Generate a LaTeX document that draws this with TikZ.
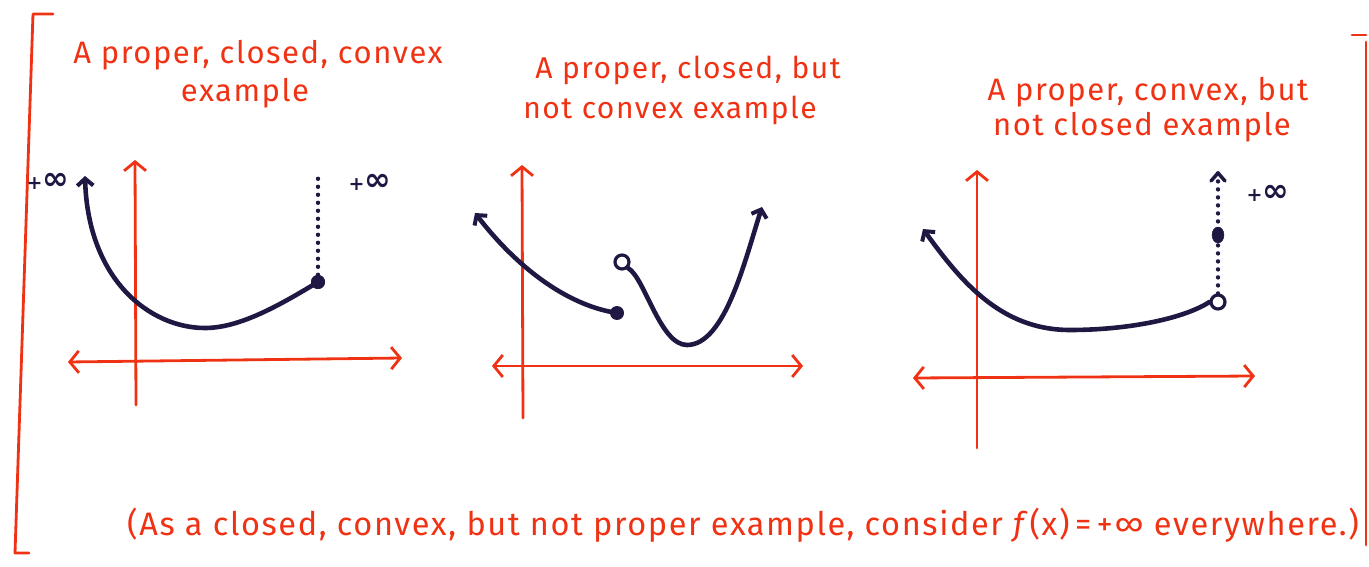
\documentclass[tikz,border=0pt]{standalone}
\usepackage{fontspec}
\setmainfont{Fira Sans}[LetterSpace=5]
\newfontfamily\inffont{DejaVu Sans}
\usetikzlibrary{arrows.meta}
\definecolor{mred}{RGB}{240,50,20}
\definecolor{ink}{RGB}{32,24,66}
\newcommand{\pinf}{{\fontsize{19}{20}\selectfont +}{\fontsize{32}{20}\selectfont ∞}}
\begin{document}
\begin{tikzpicture}[x=1pt,y=-1pt,
  ax/.style={mred, line width=2.8pt, line cap=round},
  axtip/.style={-{Straight Barb[length=9pt,width=22pt,line width=2.8pt]}},
  axtips/.style={{Straight Barb[length=9pt,width=22pt,line width=2.8pt]}-{Straight Barb[length=9pt,width=22pt,line width=2.8pt]}},
  fn/.style={ink, line width=4.6pt, line cap=round},
  fntip/.style={-{Straight Barb[length=7pt,width=16pt,line width=4pt]}},
  dotline/.style={ink, line width=4.4pt, dash pattern=on 0pt off 8pt, line cap=round},
  title/.style={mred, font=\fontsize{31}{34}\selectfont, inner sep=0pt},
  titleb/.style={mred, font=\fontsize{30}{34}\selectfont, inner sep=0pt},
  note/.style={mred, font=\fontsize{32.5}{34}\selectfont, inner sep=0pt},
  inf/.style={ink, font=\inffont\bfseries, inner sep=0pt},
  fdot/.style={circle, fill=ink, minimum size=14pt, inner sep=0pt},
  odot/.style={circle, draw=ink, fill=white, line width=3.2pt, minimum size=14pt, inner sep=0pt},
  bracket/.style={mred, line width=2.8pt, line cap=round, line join=round},
]
\useasboundingbox (0,0) rectangle (1369,567);

% brackets
\coordinate (lbt) at (53,14);
\coordinate (lbc) at (33,14);
\coordinate (lbb) at (15,553);
\coordinate (lbe) at (29,553);
\draw[bracket] (lbt) -- (lbc) -- (lbb) -- (lbe);
\coordinate (rbt) at (1352,35);
\coordinate (rbc) at (1366,35);
\coordinate (rbb) at (1366,545);
\draw[bracket] (rbt) -- (rbc) (1366,42) -- (rbb);

% titles
\node[title] (t1a) at (258,55) {A proper, closed, convex};
\node[title] (t1b) at (245,93) {example};
\node[titleb] (t2a) at (688,70) {A proper, closed, but};
\node[titleb] (t2b) at (670,110) {not convex example};
\node[title] (t3a) at (1148,92) {A proper, convex, but};
\node[title] (t3b) at (1142,127) {not closed example};
\node[note] (nt) at (743,525) {(As a closed, convex, but not proper example, consider \textit{f}(x)\,=\,+∞ everywhere.)};

% ---------- panel 1 ----------
\coordinate (y1b) at (136,405);
\coordinate (y1t) at (135,160);
\coordinate (x1l) at (68,362);
\coordinate (x1r) at (402,358);
\draw[ax,axtip] (y1b) -- (y1t);
\draw[ax,axtips] (x1l) -- (x1r);
\coordinate (m1) at (205,328);
\coordinate (tip1) at (85,176);
\coordinate (top1) at (318,172);
\node[fdot] (d1) at (318,282) {};
\draw[dotline] (d1) -- (top1);
\draw[fn,fntip] (d1.center) .. controls (280,305) and (240,328) .. (m1)
   .. controls (150,328) and (88,280) .. (tip1);
\node[fdot] at (d1) {};
\node[inf] (i1) at (48,181) {\pinf};
\node[inf] (i2) at (370,182) {\pinf};

% ---------- panel 2 ----------
\coordinate (y2b) at (523,418);
\coordinate (y2t) at (522,165);
\coordinate (x2l) at (492,366);
\coordinate (x2r) at (803,366);
\draw[ax,axtip] (y2b) -- (y2t);
\draw[ax,axtips] (x2l) -- (x2r);
\node[fdot] (d2) at (617,313) {};
\coordinate (tip2) at (475,213);
\draw[fn,fntip] (d2.center) .. controls (565,305) and (515,265) .. (tip2);
\node[odot] (o2) at (622,262) {};
\coordinate (m2) at (687,345);
\coordinate (tip3) at (762,207);
\draw[fn,fntip] (o2.south east) .. controls (645,278) and (660,345) .. (m2)
   .. controls (725,345) and (745,260) .. (tip3);

% ---------- panel 3 ----------
\coordinate (y3b) at (977,448);
\coordinate (y3t) at (977,170);
\coordinate (x3l) at (913,378);
\coordinate (x3r) at (1255,376);
\draw[ax,axtip] (y3b) -- (y3t);
\draw[ax,axtips] (x3l) -- (x3r);
\node[odot] (o3) at (1218,302) {};
\coordinate (m3) at (1070,330);
\coordinate (tip4) at (923,229);
\draw[fn,fntip] (o3.west) .. controls (1185,318) and (1130,330) .. (m3)
   .. controls (1000,330) and (960,280) .. (tip4);
\coordinate (top3) at (1218,172);
\draw[dotline] (o3.north) -- (top3);
\draw[ink, line width=3.5pt, line cap=round, line join=round] (1211,181) -- (1218,173) -- (1225,181);
\draw[ink, fill=ink] (1218,235) ellipse [x radius=6pt, y radius=8pt];
\node[inf] (i3) at (1268,193) {\pinf};
\end{tikzpicture}
\end{document}
